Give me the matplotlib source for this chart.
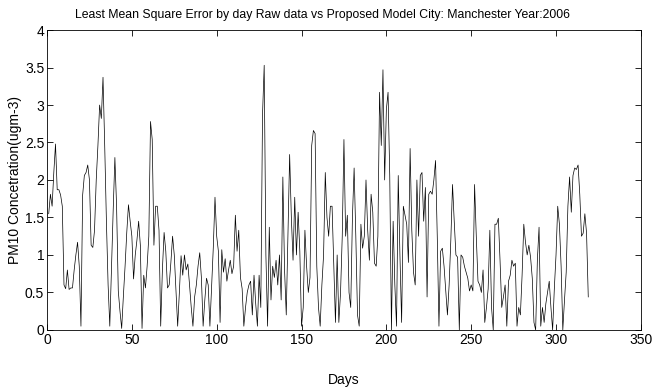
import matplotlib
matplotlib.use("Agg")
import matplotlib.pyplot as plt
import numpy as np
from matplotlib.ticker import FuncFormatter

plt.rcParams['font.family'] = ['Liberation Sans', 'DejaVu Sans']

# daily least mean square error, Manchester 2006
lmse = [
    1.55, 1.81, 1.65, 2.10, 2.48, 1.87, 1.87, 1.80, 1.65, 0.60,
    0.55, 0.80, 0.54, 0.56, 0.56, 0.80, 1.00, 1.17, 0.85, 0.05,
    1.80, 2.06, 2.10, 2.20, 2.00, 1.13, 1.10, 1.33, 2.00, 2.46,
    3.00, 2.82, 3.37, 2.46, 1.45, 0.60, 0.05, 0.85, 1.60, 2.30,
    1.65, 0.52, 0.25, 0.02, 0.45, 0.85, 1.30, 1.67, 1.45, 1.25,
    0.68, 1.00, 1.20, 1.45, 1.13, 0.02, 0.73, 0.56, 0.85, 1.25,
    2.78, 2.54, 1.13, 1.65, 1.65, 1.33, 0.05, 0.80, 1.30, 1.05,
    0.56, 0.60, 0.90, 1.25, 1.00, 0.52, 0.05, 0.50, 0.99, 0.73,
    1.00, 0.80, 0.88, 0.60, 0.30, 0.05, 0.44, 0.60, 0.85, 1.03,
    0.69, 0.05, 0.40, 0.69, 0.60, 0.05, 0.56, 1.10, 1.77, 1.25,
    1.05, 0.10, 1.07, 0.77, 0.95, 0.65, 0.80, 0.93, 0.75, 0.85,
    1.53, 1.05, 1.33, 0.70, 0.55, 0.05, 0.30, 0.50, 0.60, 0.65,
    0.20, 0.73, 0.35, 0.05, 0.73, 0.30, 2.86, 3.53, 1.00, 0.05,
    1.37, 0.40, 0.85, 0.70, 0.93, 0.60, 1.00, 0.40, 2.04, 0.80,
    0.20, 1.25, 2.34, 1.50, 0.93, 1.77, 1.00, 1.57, 1.05, 0.05,
    0.30, 1.33, 0.85, 0.50, 0.70, 2.46, 2.66, 2.62, 0.85, 0.30,
    0.05, 0.60, 1.00, 2.10, 1.50, 1.25, 1.65, 1.65, 0.85, 0.10,
    1.00, 0.10, 0.50, 1.25, 2.54, 1.25, 1.53, 0.50, 0.30, 1.50,
    2.16, 1.25, 0.20, 0.05, 1.41, 1.09, 1.25, 2.00, 1.33, 0.93,
    1.81, 1.57, 0.89, 0.85, 1.25, 3.17, 2.46, 3.47, 2.00, 2.94,
    3.17, 2.06, 0.00, 1.45, 0.60, 0.05, 2.06, 1.00, 0.10, 1.65,
    1.53, 1.41, 0.90, 2.42, 1.33, 0.77, 0.60, 2.00, 1.25, 2.06,
    2.10, 1.45, 1.90, 0.44, 1.81, 1.85, 1.81, 2.00, 2.26, 1.25,
    0.05, 1.05, 1.09, 0.85, 0.52, 0.20, 0.60, 1.20, 1.94, 1.45,
    1.00, 0.97, 0.00, 1.00, 0.97, 0.85, 0.77, 0.69, 0.52, 0.60,
    0.52, 1.94, 1.25, 0.65, 0.60, 0.50, 0.80, 0.10, 0.30, 0.55,
    1.33, 0.30, 0.00, 1.41, 1.41, 1.49, 0.93, 0.30, 0.44, 0.60,
    0.05, 0.65, 0.73, 0.93, 0.85, 0.89, 0.05, 0.30, 0.20, 0.73,
    1.41, 1.17, 1.00, 1.13, 0.97, 0.69, 0.10, 0.00, 0.93, 1.37,
    0.05, 0.30, 0.10, 0.35, 0.50, 0.65, 0.30, 0.00, 0.55, 1.00,
    1.65, 1.41, 0.85, 0.00, 0.40, 0.77, 1.65, 2.04, 1.57, 2.06,
    2.16, 2.14, 2.20, 1.81, 1.25, 1.29, 1.55, 1.29, 0.44,
]
days = np.arange(1, len(lmse) + 1)

x_ticks = [0, 50, 100, 150, 200, 250, 300, 350]
y_ticks = [0, 0.5, 1, 1.5, 2, 2.5, 3, 3.5, 4]

fig = plt.figure(figsize=(6.54, 3.90), dpi=100)
ax = fig.add_axes([0.0719, 0.154, 0.908, 0.769])

ax.plot(days, lmse, color='black', linewidth=0.5)

ax.set_xlim(0, 350)
ax.set_ylim(0, 4)
ax.set_xticks(x_ticks)
ax.set_yticks(y_ticks)
ax.yaxis.set_major_formatter(FuncFormatter(lambda v, p: '%g' % v))
ax.tick_params(direction='in', top=True, right=True, length=4, width=0.6,
               labelsize=10, pad=2)
for s in ax.spines.values():
    s.set_linewidth(0.6)

ax.set_title('Least Mean Square Error by day Raw data vs Proposed Model City: Manchester Year:2006',
             fontsize=8.8, pad=9, x=0.463)
ax.set_xlabel('Days', fontsize=10, labelpad=19)
ax.set_ylabel('PM10 Concetration(ugm-3)', fontsize=10, labelpad=2)

fig.savefig('out.png', dpi=100, facecolor='white')
